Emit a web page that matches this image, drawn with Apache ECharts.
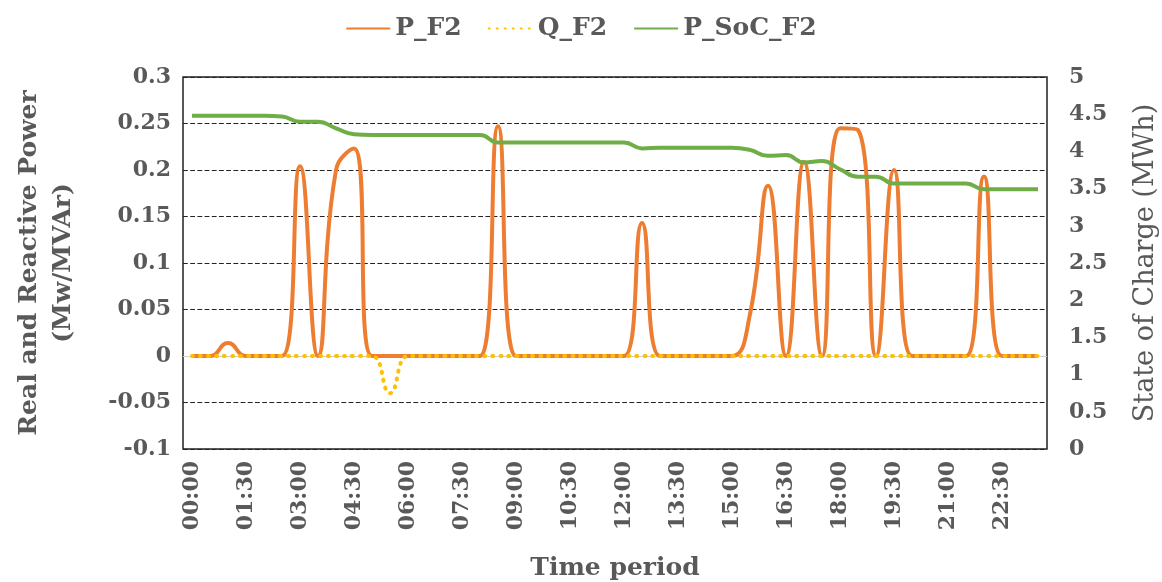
<!DOCTYPE html>
<html lang="en">
<head>
	<meta charset="UTF-8">
	<title>P_F2 / Q_F2 / P_SoC_F2</title>
	<script src="https://cdn.jsdelivr.net/npm/echarts@6/dist/echarts.min.js"></script>
	<style>
		html, body { margin: 0; padding: 0; background: #fff; }
		#chart { width: 1162px; height: 582px; }
	</style>
</head>
<body>
	<div id="chart"></div>
	<script>
		// time slots, 30 min each
		var times = ['00:00','00:30','01:00','01:30','02:00','02:30','03:00','03:30','04:00','04:30','05:00','05:30',
			'06:00','06:30','07:00','07:30','08:00','08:30','09:00','09:30','10:00','10:30','11:00','11:30',
			'12:00','12:30','13:00','13:30','14:00','14:30','15:00','15:30','16:00','16:30','17:00','17:30',
			'18:00','18:30','19:00','19:30','20:00','20:30','21:00','21:30','22:00','22:30','23:00','23:30'];

		// real power (MW)
		var pF2 = [0, 0, 0.014, 0, 0, 0, 0.204, 0, 0.2, 0.223, 0, 0,
			0, 0, 0, 0, 0, 0.247, 0, 0, 0, 0, 0, 0,
			0, 0.143, 0, 0, 0, 0, 0, 0.045, 0.183, 0, 0.209, 0,
			0.245, 0.243, 0, 0.2, 0, 0, 0, 0, 0.193, 0, 0, 0];

		// reactive power (MVAr)
		var qF2 = [0, 0, 0, 0, 0, 0, 0, 0, 0, 0, 0, -0.04,
			0, 0, 0, 0, 0, 0, 0, 0, 0, 0, 0, 0,
			0, 0, 0, 0, 0, 0, 0, 0, 0, 0, 0, 0,
			0, 0, 0, 0, 0, 0, 0, 0, 0, 0, 0, 0];

		// state of charge (MWh)
		var socF2 = [4.48, 4.48, 4.48, 4.48, 4.48, 4.47, 4.40, 4.40, 4.31, 4.23, 4.22, 4.22,
			4.22, 4.22, 4.22, 4.22, 4.22, 4.12, 4.12, 4.12, 4.12, 4.12, 4.12, 4.12,
			4.12, 4.04, 4.05, 4.05, 4.05, 4.05, 4.05, 4.02, 3.94, 3.95, 3.85, 3.87,
			3.76, 3.66, 3.66, 3.57, 3.57, 3.57, 3.57, 3.57, 3.49, 3.49, 3.49, 3.49];

		var fontName = 'DejaVu Serif';
		var grey = '#595959';

		var option = {
			animation: false,
			color: ['#ED7D31', '#FFC000', '#70AD47'],
			legend: {
				top: 11,
				left: 'center',
				itemWidth: 44,
				itemHeight: 14,
				itemGap: 26,
				itemStyle: { opacity: 0 },
				textStyle: { fontFamily: fontName, fontSize: 25, fontWeight: 'bold', color: grey },
				data: ['P_F2', 'Q_F2', 'P_SoC_F2']
			},
			grid: {
				left: 183, right: 115, top: 77, bottom: 133,
				outerBoundsMode: 'none',
				containLabel: false,
				show: true, borderColor: '#222', borderWidth: 1.5
			},
			xAxis: {
				type: 'category',
				data: times,
				boundaryGap: true,
				axisLine: { show: false },
				axisTick: { show: false },
				axisLabel: {
					interval: 2, rotate: 90, margin: 12,
					fontFamily: fontName, fontSize: 22, fontWeight: 'bold', color: grey
				},
				name: 'Time period',
				nameLocation: 'middle',
				nameGap: 107,
				nameTextStyle: { fontFamily: fontName, fontSize: 25, fontWeight: 'bold', color: grey }
			},
			yAxis: [{
				type: 'value',
				min: -0.1, max: 0.3, interval: 0.05,
				axisLine: { show: false },
				axisTick: { show: false },
				axisLabel: { margin: 12, fontFamily: fontName, fontSize: 22, fontWeight: 'bold', color: grey },
				splitLine: {
					show: true,
					lineStyle: {
						type: 'dashed', width: 1.2,
						color: ['#222', '#222', 'transparent', '#222', '#222', '#222', '#222', '#222', '#222']
					}
				},
				name: 'Real and Reactive Power\n(Mw/MVAr)',
				nameLocation: 'middle',
				nameRotate: 90,
				nameGap: 103,
				nameTextStyle: { fontFamily: fontName, fontSize: 25, fontWeight: 'bold', color: grey, lineHeight: 34 }
			}, {
				type: 'value',
				min: 0, max: 5, interval: 0.5,
				position: 'right',
				axisLine: { show: false },
				axisTick: { show: false },
				splitLine: { show: false },
				axisLabel: { margin: 22, fontFamily: fontName, fontSize: 22, fontWeight: 'bold', color: grey },
				name: 'State of Charge (MWh)',
				nameLocation: 'middle',
				nameRotate: 90,
				nameGap: 85,
				nameTextStyle: { fontFamily: fontName, fontSize: 27, color: grey }
			}],
			series: [{
				name: 'P_F2',
				type: 'line',
				data: pF2,
				smooth: 0.5,
				symbol: 'none',
				lineStyle: { width: 4 },
				z: 3,
				markLine: {
					silent: true,
					symbol: 'none',
					label: { show: false },
					lineStyle: { color: '#d0d0d0', type: 'solid', width: 1.2 },
					data: [{ yAxis: 0 }],
					z: 1
				}
			}, {
				name: 'Q_F2',
				type: 'line',
				data: qF2,
				smooth: 0.5,
				symbol: 'none',
				lineStyle: { width: 4, type: [1, 7], cap: 'round' },
				z: 4
			}, {
				name: 'P_SoC_F2',
				type: 'line',
				yAxisIndex: 1,
				data: socF2,
				smooth: 0.5,
				symbol: 'none',
				lineStyle: { width: 4 },
				z: 3
			}]
		};

		var myChart = echarts.init(document.getElementById('chart'));
		myChart.setOption(option);
	</script>
</body>
</html>
